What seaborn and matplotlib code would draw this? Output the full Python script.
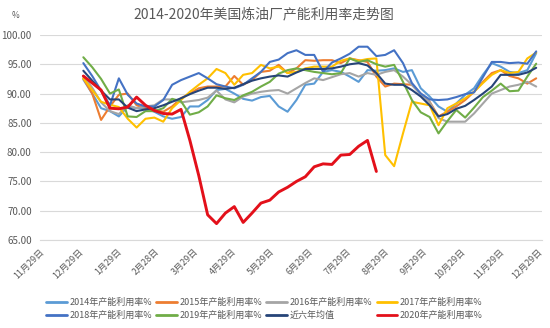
import numpy as np
import pandas as pd
import matplotlib
matplotlib.use("Agg")
import matplotlib.pyplot as plt
from matplotlib.lines import Line2D
from matplotlib.ticker import FormatStrFormatter
import seaborn as sns

sns.set_theme(style="white")
plt.rcParams['font.family'] = ['Noto Sans CJK SC', 'DejaVu Sans']

# weekly observations, week 0 = first week of January
weeks = list(range(52))

u2014 = [92.4, 90.0, 87.5, 87.0, 86.1, 87.8, 87.5, 87.5, 86.9, 86.1, 85.7, 86.0, 87.8,
         87.8, 88.9, 90.6, 90.8, 90.0, 89.1, 88.8, 89.4, 89.6, 87.8, 86.9, 88.9, 91.5,
         91.7, 93.7, 94.0, 93.7, 92.9, 92.0, 94.0, 93.9, 94.0, 94.3, 93.7, 94.0, 90.9,
         89.5, 87.8, 86.9, 88.3, 89.8, 90.9, 93.2, 95.2, 94.6, 93.7, 93.5, 94.0, 96.9]
u2015 = [92.6, 90.0, 85.5, 87.8, 89.8, 90.0, 88.0, 87.5, 87.2, 86.9, 87.8, 89.2, 90.0,
         90.9, 91.2, 91.2, 91.2, 93.0, 91.5, 92.3, 93.7, 93.9, 94.9, 93.5, 94.3, 95.7,
         95.6, 95.7, 95.7, 95.2, 96.0, 95.7, 95.4, 92.9, 91.2, 91.7, 91.6, 91.5, 90.0,
         88.6, 86.1, 86.9, 87.8, 88.9, 90.3, 92.0, 93.5, 94.0, 93.0, 92.6, 91.7, 92.6]
u2016 = [93.0, 91.0, 88.5, 87.0, 86.5, 88.0, 87.5, 87.8, 88.0, 89.0, 89.0, 88.5, 88.7,
         88.9, 89.3, 90.5, 89.0, 88.5, 89.5, 90.0, 90.3, 90.5, 90.6, 90.0, 90.9, 91.8,
         92.6, 92.3, 92.8, 93.3, 93.5, 92.9, 93.5, 93.2, 93.7, 94.0, 92.9, 91.5, 89.8,
         88.5, 85.8, 85.2, 85.2, 85.2, 86.6, 88.3, 90.0, 90.6, 91.2, 91.5, 92.0, 91.2]
u2017 = [92.6, 90.6, 88.6, 88.1, 87.7, 85.7, 84.2, 85.7, 85.9, 85.2, 87.5, 88.9, 90.3,
         91.5, 92.6, 94.2, 93.5, 91.5, 93.2, 93.5, 94.9, 94.3, 94.6, 93.5, 93.7, 94.3,
         94.6, 94.6, 94.6, 95.6, 96.0, 95.6, 95.9, 96.0, 79.5, 77.6, 83.2, 88.6, 88.3,
         88.0, 84.6, 87.5, 88.3, 89.2, 90.3, 91.8, 93.2, 94.0, 93.5, 93.7, 96.0, 97.0]
u2018 = [95.2, 93.0, 90.5, 88.0, 92.6, 89.8, 88.3, 87.8, 87.8, 88.9, 91.5, 92.3, 92.9,
         93.5, 92.6, 91.6, 91.2, 90.9, 91.5, 92.6, 93.7, 95.4, 95.8, 96.9, 97.4, 96.6,
         96.6, 93.7, 95.3, 96.0, 96.8, 98.0, 98.0, 96.4, 96.6, 97.4, 95.2, 91.8, 90.0,
         89.0, 88.9, 89.0, 89.4, 89.9, 90.2, 92.8, 95.4, 95.4, 95.2, 95.3, 95.1, 97.2]
u2019 = [96.2, 94.5, 92.5, 90.0, 90.7, 86.1, 86.0, 87.0, 87.0, 87.5, 89.1, 88.7, 86.4,
         86.8, 87.8, 89.7, 89.2, 88.9, 89.7, 90.3, 91.2, 92.0, 93.4, 94.0, 94.3, 94.0,
         93.7, 93.5, 93.3, 93.5, 96.0, 95.4, 95.7, 95.0, 94.6, 94.9, 92.0, 88.9, 86.8,
         86.0, 83.2, 85.3, 87.2, 85.9, 87.6, 89.4, 90.5, 91.7, 90.4, 90.5, 92.9, 95.1]
avg6 = [93.9, 92.2, 90.5, 89.0, 89.0, 87.6, 87.0, 87.3, 87.5, 88.0, 88.6, 89.2, 89.9,
        90.5, 91.0, 91.0, 90.8, 91.0, 91.6, 92.2, 92.6, 92.9, 93.1, 92.9, 93.6, 94.2,
        94.2, 94.2, 94.3, 94.6, 95.0, 95.2, 94.8, 93.5, 91.7, 91.5, 91.5, 90.6, 89.5,
        88.0, 86.1, 86.5, 87.4, 87.9, 88.9, 90.0, 91.2, 93.2, 93.2, 93.2, 93.6, 94.4]
u2020 = [93.0, 91.8, 90.6, 87.5, 87.4, 87.7, 89.4, 88.0, 87.1, 86.6, 86.5, 87.3, 82.0,
         76.0, 69.3, 67.8, 69.6, 70.7, 68.0, 69.6, 71.3, 71.8, 73.2, 74.0, 75.0, 75.8,
         77.5, 78.0, 77.9, 79.5, 79.6, 81.0, 82.0, 76.7]

series_names = ['2014年产能利用率%', '2015年产能利用率%', '2016年产能利用率%',
                '2017年产能利用率%', '2018年产能利用率%', '2019年产能利用率%',
                '近六年均值', '2020年产能利用率%']
series_values = [u2014, u2015, u2016, u2017, u2018, u2019, avg6, u2020]
series_colors = ['#5B9BD5', '#ED7D31', '#A5A5A5', '#FFC000', '#4472C4', '#70AD47',
                 '#264478', '#E3101A']
series_widths = [1.5, 1.5, 1.5, 1.5, 1.5, 1.5, 1.5, 2.1]

tick_labels = ['11月29日', '12月29日', '1月29日', '2月28日', '3月29日', '4月29日',
               '5月29日', '6月29日', '7月29日', '8月29日', '9月29日', '10月29日',
               '11月29日', '12月29日']

frames = []
for name, vals in zip(series_names, series_values):
    frames.append(pd.DataFrame({'week': weeks[:len(vals)], 'value': vals, 'series': name}))
df = pd.concat(frames, ignore_index=True)

fig = plt.figure(figsize=(5.5, 3.28), dpi=100)
ax = fig.add_axes([40 / 550, 1 - 240 / 328, (541.7 - 40) / 550, 205 / 328])

for name, color, lw in zip(series_names, series_colors, series_widths):
    sub = df[df['series'] == name]
    sns.lineplot(data=sub, x='week', y='value', color=color, linewidth=lw,
                 ax=ax, legend=False)

# month ticks, evenly spaced (about 4.31 weeks apart)
x_left = -4.88
tick_pos = x_left + 4.31 * np.arange(len(tick_labels))
ax.set_xlim(x_left, 51.62)
ax.set_ylim(65, 100)
ax.set_xticks(tick_pos)
ax.set_xticklabels(tick_labels, rotation=45, ha='right', rotation_mode='anchor',
                   fontsize=6.5, color='#595959')
ax.set_yticks(np.arange(65, 101, 5))
ax.yaxis.set_major_formatter(FormatStrFormatter('%.2f'))
ax.tick_params(axis='y', length=0, labelsize=7, labelcolor='#595959', pad=6)
ax.tick_params(axis='x', length=3, width=0.8, color='#D9D9D9', direction='out', pad=2)
ax.set_xlabel('')
ax.set_ylabel('')
ax.grid(axis='y', color='#D9D9D9', linewidth=0.8)
ax.grid(axis='x', visible=False)
for side in ['top', 'right', 'left']:
    ax.spines[side].set_visible(False)
ax.spines['bottom'].set_color('#D9D9D9')
ax.spines['bottom'].set_linewidth(0.8)

fig.text(263.5 / 550, 1 - 14 / 328, '2014-2020年美国炼油厂产能利用率走势图',
         ha='center', va='center', fontsize=10, color='#595959')
fig.text(15 / 550, 1 - 15 / 328, '%', ha='center', va='center', fontsize=6,
         color='#595959')

handles = [Line2D([0], [0], color=c, linewidth=2) for c in series_colors]
# legend reads row by row: four entries on top, four below
order = [0, 4, 1, 5, 2, 6, 3, 7]
fig.legend([handles[i] for i in order], [series_names[i] for i in order],
           ncol=4, loc='upper left', bbox_to_anchor=(46 / 550, 1 - 298 / 328),
           frameon=False, fontsize=6.5, handlelength=2.3, handletextpad=0.3,
           columnspacing=0.45, labelspacing=0.4, borderaxespad=0, borderpad=0,
           labelcolor='#595959')

fig.savefig('out.png', dpi=100)
